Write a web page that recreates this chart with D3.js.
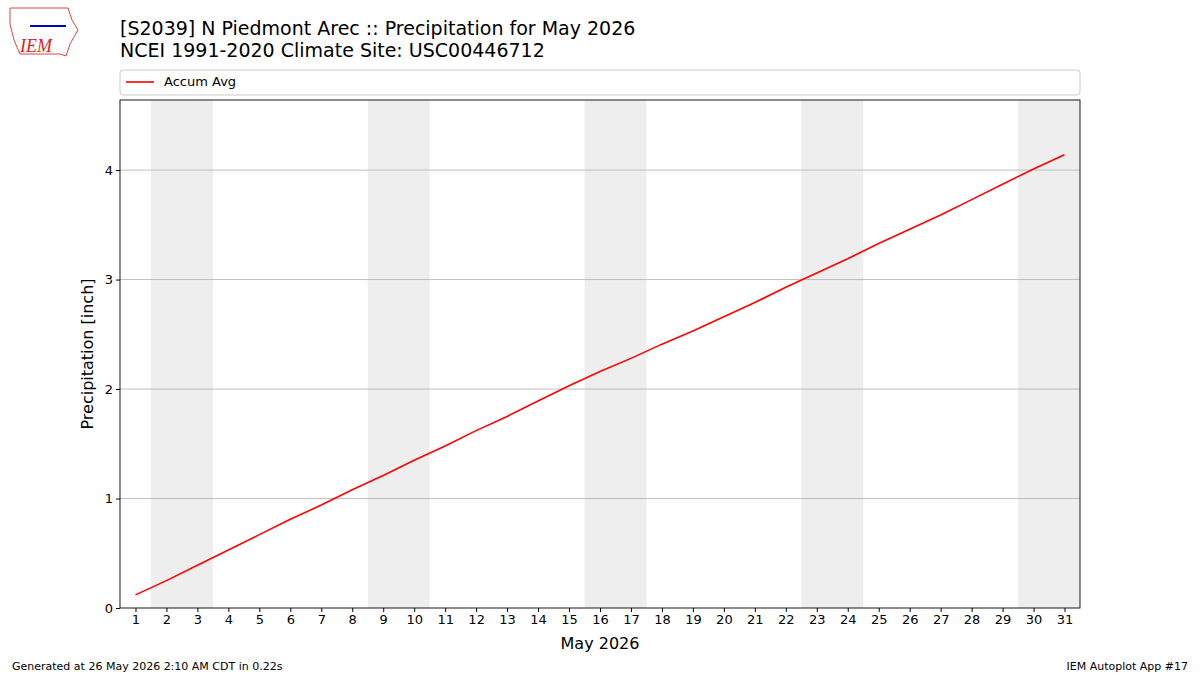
<!DOCTYPE html>
<html><head><meta charset="utf-8">
<script src="https://cdn.jsdelivr.net/npm/d3@7"></script>
<style>body{margin:0;background:#fff;font-family:"DejaVu Sans",sans-serif}</style>
</head><body><svg id="c" width="1200" height="675"></svg>
<script>
const days = d3.range(1,32);
const accumAvg = [0.12,0.25,0.39,0.53,0.67,0.81,0.94,1.08,1.21,1.35,1.48,1.62,1.75,1.89,2.03,2.16,2.28,2.41,2.53,2.66,2.79,2.93,3.06,3.19,3.33,3.46,3.59,3.73,3.87,4.01,4.14];
const weekends = [[1.5,3.5],[8.5,10.5],[15.5,17.5],[22.5,24.5],[29.5,31.5]];
const yTicks = [0,1,2,3,4];

const svg = d3.select("#c");
const L=120,R=1080,T=100,B=608;
const x = d3.scaleLinear().domain([0.5,31.5]).range([L,R]);
const y = d3.scaleLinear().domain([0,4.64]).range([B,T]);

svg.selectAll("rect.we").data(weekends).join("rect")
 .attr("x",d=>x(d[0])).attr("width",d=>x(d[1])-x(d[0]))
 .attr("y",T).attr("height",B-T).attr("fill","#eeeeee");
svg.selectAll("line.g").data(yTicks.slice(1)).join("line")
 .attr("x1",L).attr("x2",R).attr("y1",d=>y(d)).attr("y2",d=>y(d)).attr("stroke","#b0b0b0").attr("stroke-width",0.8);

svg.append("path").datum(accumAvg).attr("fill","none").attr("stroke","red").attr("stroke-width",1.6)
 .attr("d",d3.line().x((d,i)=>x(days[i])).y(d=>y(d)));

svg.append("rect").attr("x",L).attr("y",T).attr("width",R-L).attr("height",B-T).attr("fill","none").attr("stroke","#000").attr("stroke-width",0.9);

const xa = svg.append("g").attr("transform",`translate(0,${B})`).call(d3.axisBottom(x).tickValues(days).tickFormat(d3.format("d")).tickSize(4).tickSizeOuter(0));
const ya = svg.append("g").attr("transform",`translate(${L},0)`).call(d3.axisLeft(y).tickValues(yTicks).tickFormat(d3.format("d")).tickSize(4).tickSizeOuter(0));
[xa,ya].forEach(a=>{a.select(".domain").remove();a.selectAll("text").attr("font-size",13).attr("font-family","DejaVu Sans").attr("fill","#000");});

svg.append("text").attr("x",600).attr("y",649).attr("text-anchor","middle").attr("font-size",16).text("May 2026");
svg.append("text").attr("transform",`translate(93,354) rotate(-90)`).attr("text-anchor","middle").attr("font-size",16).text("Precipitation [inch]");

svg.append("text").attr("x",120).attr("y",35).attr("font-size",19).text("[S2039] N Piedmont Arec :: Precipitation for May 2026");
svg.append("text").attr("x",120).attr("y",57).attr("font-size",19).text("NCEI 1991-2020 Climate Site: USC00446712");

svg.append("rect").attr("x",120).attr("y",70).attr("width",960).attr("height",25).attr("rx",3).attr("fill","#fff").attr("stroke","#ccc");
svg.append("line").attr("x1",126).attr("x2",154).attr("y1",82).attr("y2",82).attr("stroke","red").attr("stroke-width",1.6);
svg.append("text").attr("x",164).attr("y",86).attr("font-size",13).text("Accum Avg");

svg.append("text").attr("x",12).attr("y",670).attr("font-size",11).text("Generated at 26 May 2026 2:10 AM CDT in 0.22s");
svg.append("text").attr("x",1188).attr("y",670).attr("text-anchor","end").attr("font-size",11).text("IEM Autoplot App #17");

svg.append("path").attr("d","M10,8 L68,8 L72,20 L78,30 L70,44 L66,56 L60,54 L20,54 L14,40 L10,24 Z").attr("fill","none").attr("stroke","#d44").attr("stroke-width",1);
svg.append("line").attr("x1",30).attr("x2",66).attr("y1",26).attr("y2",26).attr("stroke","#00c").attr("stroke-width",2);
svg.append("text").attr("x",20).attr("y",52).attr("font-size",18).attr("font-style","italic").attr("font-family","Liberation Serif").attr("fill","#d22").text("IEM");
</script></body></html>
